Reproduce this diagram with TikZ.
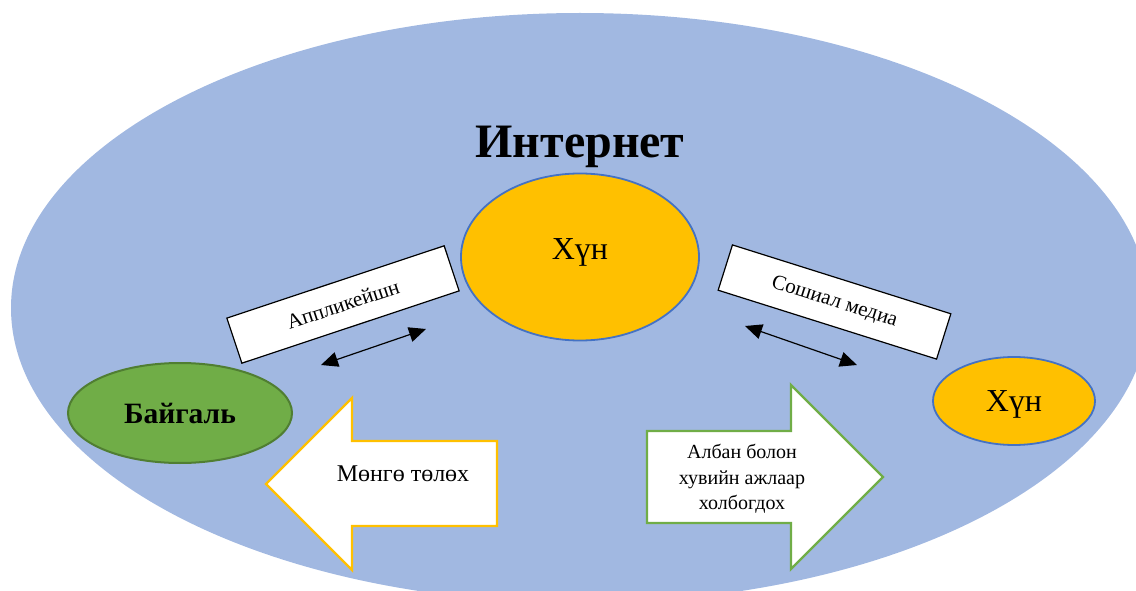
\documentclass[tikz,border=0pt]{standalone}
\usepackage{fontspec}
\setmainfont{Liberation Serif}
\usetikzlibrary{shapes.geometric,arrows.meta}
\definecolor{bigblue}{HTML}{A1B8E1}
\definecolor{gold}{HTML}{FFC000}
\definecolor{edgeblue}{HTML}{4472C4}
\definecolor{leaf}{HTML}{70AD47}
\definecolor{leafdark}{HTML}{507E32}
\tikzset{
  x=1pt,y=-1pt,
  oval/.style={ellipse,draw=edgeblue,line width=1.8pt,fill=gold,inner sep=0pt,text=black},
  tag/.style={draw=black,line width=1.2pt,fill=white,minimum width=229pt,minimum height=47.5pt,inner sep=0pt,font=\fontsize{21}{25}\selectfont},
  link/.style={black,line width=1.2pt,{Triangle[width=15pt,length=17pt]}-{Triangle[width=15pt,length=17pt]}},
  arrowlabel/.style={align=center,inner sep=0pt,text=black}
}
\begin{document}
\begin{tikzpicture}
\useasboundingbox (0,0) rectangle (1136,591);
\begin{scope}
\clip (0,0) rectangle (1136,591);
\node[ellipse,fill=bigblue,minimum width=1138pt,minimum height=590pt,inner sep=0pt] (net) at (580,308) {};
\end{scope}
\node[font=\bfseries\fontsize{48}{56}\selectfont] (title) at (580,147) {Интернет};
\node[oval,minimum width=238pt,minimum height=167pt] (h1) at (580,257) {};
\node[font=\fontsize{32}{38}\selectfont] (h1t) at (580,252) {Хүн};
\node[oval,minimum width=162pt,minimum height=88pt] (h2) at (1014,401) {};
\node[font=\fontsize{32}{38}\selectfont] (h2t) at (1014,404) {Хүн};
\node[ellipse,draw=leafdark,line width=2pt,fill=leaf,minimum width=224pt,minimum height=100pt,inner sep=0pt,font=\bfseries\fontsize{29.5}{34}\selectfont] (nature) at (180,413) {Байгаль};
\node[tag,rotate=18.4] (app) at (343,304.5) {Аппликейшн};
\node[tag,rotate=-17.5] (social) at (834.5,302) {Сошиал медиа};
\coordinate (a1) at (321,365);
\coordinate (a2) at (426,329);
\coordinate (b1) at (745,326);
\coordinate (b2) at (857,365);
\draw[link] (a1) -- (a2);
\draw[link] (b1) -- (b2);
\draw[line width=2.4pt,draw=gold,fill=white,miter limit=10] (497,441) -- (352,441) -- (352,398) -- (266,484) -- (352,570) -- (352,526) -- (497,526) -- cycle;
\node[arrowlabel,font=\fontsize{24}{28}\selectfont] (pay) at (403,474) {Мөнгө төлөх};
\draw[line width=2.4pt,draw=leaf,fill=white,miter limit=10] (647,431) -- (791,431) -- (791,385) -- (883,477) -- (791,569) -- (791,523) -- (647,523) -- cycle;
\node[arrowlabel,font=\fontsize{20}{25.5}\selectfont] (job) at (742,479) {Албан болон\\хувийн ажлаар\\холбогдох};
\end{tikzpicture}
\end{document}
